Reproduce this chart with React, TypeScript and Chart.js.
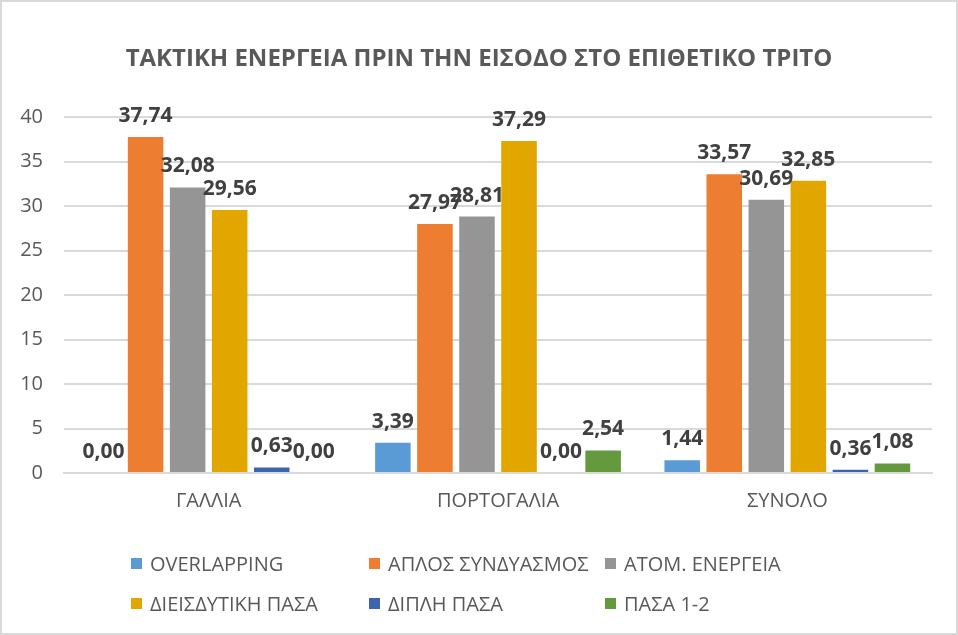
import React, { useEffect, useRef } from "react";
import { Chart, registerables } from "chart.js";

Chart.register(...registerables);

const categories = ["ΓΑΛΛΙΑ", "ΠΟΡΤΟΓΑΛΙΑ", "ΣΥΝΟΛΟ"];
const seriesNames = [
  "OVERLAPPING",
  "ΑΠΛΟΣ ΣΥΝΔΥΑΣΜΟΣ",
  "ΑΤΟΜ. ΕΝΕΡΓΕΙΑ",
  "ΔΙΕΙΣΔΥΤΙΚΗ ΠΑΣΑ",
  "ΔΙΠΛΗ ΠΑΣΑ",
  "ΠΑΣΑ 1-2",
];
const overlapping = [0.0, 3.39, 1.44];
const aplosSyndyasmos = [37.74, 27.97, 33.57];
const atomEnergeia = [32.08, 28.81, 30.69];
const dieisdytikiPasa = [29.56, 37.29, 32.85];
const dipliPasa = [0.63, 0.0, 0.36];
const pasa12 = [0.0, 2.54, 1.08];
const seriesValues = [overlapping, aplosSyndyasmos, atomEnergeia, dieisdytikiPasa, dipliPasa, pasa12];
const seriesColors = ["#5B9BD5", "#ED7D31", "#959595", "#E1A600", "#3B64AD", "#64993E"];
const yTicks = [0, 5, 10, 15, 20, 25, 30, 35, 40];
const title = "ΤΑΚΤΙΚΗ ΕΝΕΡΓΕΙΑ ΠΡΙΝ ΤΗΝ ΕΙΣΟΔΟ ΣΤΟ ΕΠΙΘΕΤΙΚΟ ΤΡΙΤΟ";

const FONT = "'Open Sans', 'DejaVu Sans', sans-serif";

const valueLabels = {
  id: "valueLabels",
  afterDatasetsDraw(chart: any) {
    const ctx = chart.ctx;
    ctx.save();
    ctx.font = `bold 21px ${FONT}`;
    ctx.fillStyle = "#404040";
    ctx.textAlign = "center";
    ctx.textBaseline = "alphabetic";
    chart.data.datasets.forEach((ds: any, i: number) => {
      const meta = chart.getDatasetMeta(i);
      meta.data.forEach((bar: any, j: number) => {
        const v = ds.data[j] as number;
        const txt = v.toFixed(2).replace(".", ",");
        ctx.fillText(txt, bar.x, bar.y - 15);
      });
    });
    ctx.restore();
  },
};

export default function App() {
  const canvasRef = useRef<HTMLCanvasElement | null>(null);

  useEffect(() => {
    if (!canvasRef.current) return;
    const chart = new Chart(canvasRef.current, {
      type: "bar",
      data: {
        labels: categories,
        datasets: seriesNames.map((name, i) => ({
          label: name,
          data: seriesValues[i],
          backgroundColor: seriesColors[i],
          borderWidth: 0,
          categoryPercentage: 0.872,
          barPercentage: 0.845,
        })),
      },
      options: {
        animation: false,
        responsive: false,
        maintainAspectRatio: false,
        layout: { padding: { left: 0, right: 26, top: 117, bottom: 112 } },
        plugins: {
          legend: { display: false },
          title: { display: false },
          tooltip: { enabled: false },
        },
        scales: {
          x: {
            grid: { display: false, drawTicks: false },
            border: { display: true, color: "#D9D9D9", width: 2 },
            ticks: { color: "#595959", font: { family: FONT, size: 20 }, padding: 16 },
            afterFit: (scale: any) => {
              scale.height = 50;
            },
          },
          y: {
            min: 0,
            max: 40,
            afterBuildTicks: (scale: any) => {
              scale.ticks = yTicks.map((v) => ({ value: v }));
            },
            grid: { color: "#D9D9D9", lineWidth: 2, drawTicks: false },
            border: { display: false },
            ticks: { color: "#595959", font: { family: FONT, size: 20 }, padding: 21 },
            afterFit: (scale: any) => {
              scale.width = 64;
            },
          },
        },
      },
      plugins: [valueLabels],
    });
    return () => chart.destroy();
  }, []);

  const legendCols = [131, 369, 605];
  const legendRows = [563, 603];

  return (
    <div style={{ position: "relative", width: 958, height: 635, background: "#fff", overflow: "hidden" }}>
      <style>{`body{margin:0}`}</style>
      <canvas ref={canvasRef} width={958} height={635} style={{ position: "absolute", left: 0, top: 0 }} />
      <div
        style={{
          position: "absolute",
          left: 0,
          top: 40,
          width: 958,
          textAlign: "center",
          fontFamily: FONT,
          fontWeight: 700,
          fontSize: 24,
          lineHeight: "34px",
          color: "#595959",
        }}
      >
        {title}
      </div>
      {seriesNames.map((name, i) => {
        const col = i % 3;
        const row = Math.floor(i / 3);
        return (
          <div
            key={name}
            style={{
              position: "absolute",
              left: legendCols[col],
              top: legendRows[row] - 14,
              height: 28,
              display: "flex",
              alignItems: "center",
              fontFamily: FONT,
              fontSize: 20,
              color: "#595959",
              whiteSpace: "nowrap",
            }}
          >
            <span style={{ display: "inline-block", width: 11, height: 11, background: seriesColors[i], marginRight: 8 }} />
            <span>{name}</span>
          </div>
        );
      })}
      <div
        style={{
          position: "absolute",
          left: 0,
          top: 0,
          width: 958,
          height: 635,
          boxSizing: "border-box",
          border: "2px solid #D9D9D9",
          pointerEvents: "none",
        }}
      />
    </div>
  );
}
